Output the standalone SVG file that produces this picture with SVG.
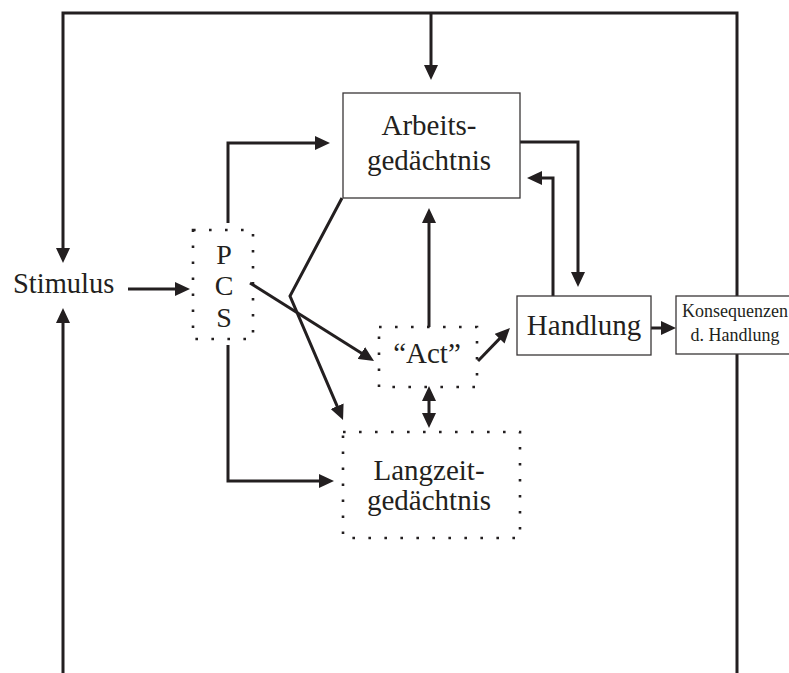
<svg xmlns="http://www.w3.org/2000/svg" width="789" height="673" viewBox="0 0 789 673">
<style>
.t{font-family:"Liberation Serif","Times New Roman",serif;fill:#231f20;text-anchor:middle}
.box{fill:#fff;stroke:#3a3637;stroke-width:1.3}
.dot{fill:none;stroke:#231f20;stroke-width:2.6;stroke-dasharray:2.6 13.4}
.c{fill:none;stroke:#231f20;stroke-width:3}
.a{marker-end:url(#ah)}
</style>
<defs>
<marker id="ah" viewBox="0 0 15 14" refX="6" refY="7" markerWidth="15" markerHeight="14" markerUnits="userSpaceOnUse" orient="auto-start-reverse">
<path d="M0,0 L15,7 L0,14 z" fill="#231f20"/>
</marker>
</defs>
<rect width="789" height="673" fill="#fff"/>
<g id="connectors">
<path class="c a" d="M737,296 V13 H63 V254"/>
<path class="c a" d="M431,13 V71"/>
<path class="c a" d="M63,673 V317"/>
<path class="c" d="M737,354 V673"/>
<path class="c a" d="M128,289 H181"/>
<path class="c a" d="M228,223 V143 H321"/>
<path class="c a" d="M520,142 H578 V278"/>
<path class="c a" d="M553,296 V178 H536"/>
<path class="c a" d="M342,198 L290,296 L339.5,411.7"/>
<path class="c a" d="M250,283 L366.4,356.2"/>
<path class="c a" d="M478,361 L503.7,334.4"/>
<path class="c a" d="M429,327 V217"/>
<path class="c a" d="M429,395 V419" marker-start="url(#ah)"/>
<path class="c a" d="M228,345 V481 H325"/>
<path class="c a" d="M651,328 H667"/>
</g>
<g id="stimulus">
<text class="t" x="13" y="293" font-size="28.5" style="text-anchor:start">Stimulus</text>
</g>
<g id="pcs">
<rect class="dot" x="193" y="230" width="60" height="109"/>
<text class="t" x="224" y="264" font-size="28">P</text>
<text class="t" x="224" y="295" font-size="28">C</text>
<text class="t" x="224" y="327" font-size="28">S</text>
</g>
<g id="arbeitsgedaechtnis">
<rect class="box" x="343" y="93" width="177" height="105"/>
<text class="t" x="429" y="135" font-size="29">Arbeits-</text>
<text class="t" x="429" y="170" font-size="29">gedächtnis</text>
</g>
<g id="act">
<rect class="dot" x="379" y="327" width="98" height="60"/>
<text class="t" x="427" y="363" font-size="29">“Act”</text>
</g>
<g id="langzeitgedaechtnis">
<rect class="dot" x="343" y="432" width="177" height="106"/>
<text class="t" x="429" y="480" font-size="29">Langzeit-</text>
<text class="t" x="429" y="510" font-size="29">gedächtnis</text>
</g>
<g id="handlung">
<rect class="box" x="517" y="296" width="134" height="59"/>
<text class="t" x="584" y="335" font-size="29">Handlung</text>
</g>
<g id="konsequenzen">
<rect class="box" x="676" y="296" width="121" height="58"/>
<text class="t" x="735" y="317" font-size="18">Konsequenzen</text>
<text class="t" x="735" y="341" font-size="18">d. Handlung</text>
</g>
</svg>
